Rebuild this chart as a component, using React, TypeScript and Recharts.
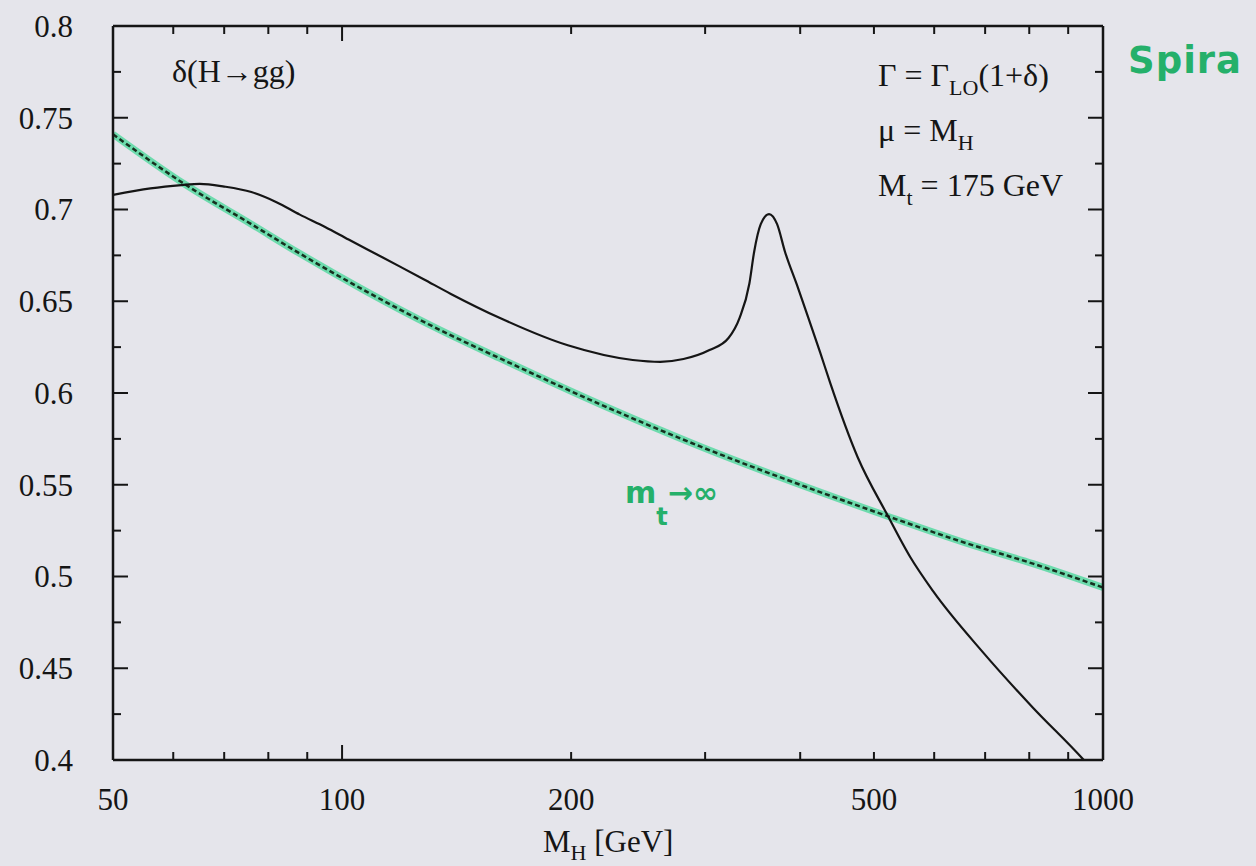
import React from "react";
import { LineChart, Line, XAxis, YAxis } from "recharts";

// full m_t dependence (M_t = 175 GeV)
const fullMassH = [50, 56, 61.5, 65, 70, 76, 82, 88, 95, 102, 111, 119, 128, 139, 161, 198, 241, 262, 281, 304, 322, 333, 343, 348, 355, 364, 373, 382, 396, 410, 425, 438, 476, 520, 558, 598, 696, 809, 941, 1000];
const fullDelta = [0.708, 0.7115, 0.7133, 0.714, 0.7125, 0.7095, 0.704, 0.6972, 0.6905, 0.6836, 0.6756, 0.669, 0.662, 0.654, 0.641, 0.626, 0.618, 0.617, 0.6185, 0.6234, 0.63, 0.641, 0.6597, 0.677, 0.692, 0.6975, 0.692, 0.677, 0.659, 0.641, 0.622, 0.6055, 0.565, 0.534, 0.5106, 0.492, 0.4585, 0.4285, 0.4005, 0.388];

// heavy top limit, m_t -> infinity
const limitMassH = [50, 62, 76, 88, 108, 132, 161, 218, 295, 400, 520, 663, 809, 1000];
const limitDelta = [0.741, 0.714, 0.692, 0.676, 0.655, 0.636, 0.619, 0.594, 0.571, 0.55, 0.533, 0.518, 0.507, 0.494];

const xTicks = [50, 60, 70, 80, 90, 100, 200, 300, 400, 500, 600, 700, 800, 900, 1000];
const xTickLabels = [50, 100, 200, 500, 1000];
const xMajorTicks = [100, 1000];

const yTicks = [0.4, 0.425, 0.45, 0.475, 0.5, 0.525, 0.55, 0.575, 0.6, 0.625, 0.65, 0.675, 0.7, 0.725, 0.75, 0.775, 0.8];
const yTickLabels = ["0.4", "0.45", "0.5", "0.55", "0.6", "0.65", "0.7", "0.75", "0.8"];

const fullData = fullMassH.map((m, i) => ({ m, delta: fullDelta[i] }));
const limitData = limitMassH.map((m, i) => ({ m, delta: limitDelta[i] }));

const INK = "#151515";
const SERIF = "'Liberation Serif', 'DejaVu Serif', serif";
const PAPER = "#e5e5eb";
const MARKER = "#25b06a";
const X_GAP = 28;
const Y_GAP = 40;
const MAJOR = 15;
const MINOR = 8;

const yLabel = (v: number) => yTickLabels.find((s) => Math.abs(Number(s) - v) < 1e-6);

function BottomTick({ x, y, payload }: any) {
  const v = payload.value;
  const axisY = y - X_GAP;
  const len = xMajorTicks.includes(v) ? MAJOR : MINOR;
  return (
    <g>
      <line x1={x} x2={x} y1={axisY} y2={axisY - len} stroke={INK} strokeWidth={2} />
      {xTickLabels.includes(v) && (
        <text x={x} y={y} dy="0.71em" textAnchor="middle" fill={INK} fontSize={31} fontFamily={SERIF}>
          {v}
        </text>
      )}
    </g>
  );
}

function TopTick({ x, y, payload }: any) {
  const len = xMajorTicks.includes(payload.value) ? MAJOR : MINOR;
  return <line x1={x} x2={x} y1={y} y2={y + len} stroke={INK} strokeWidth={2} />;
}

function LeftTick({ x, y, payload }: any) {
  const label = yLabel(payload.value);
  const axisX = x + Y_GAP;
  const len = label ? MAJOR : MINOR;
  return (
    <g>
      <line x1={axisX} x2={axisX + len} y1={y} y2={y} stroke={INK} strokeWidth={2} />
      {label && (
        <text x={x} y={y} dy="0.35em" textAnchor="end" fill={INK} fontSize={31} fontFamily={SERIF}>
          {label}
        </text>
      )}
    </g>
  );
}

function RightTick({ x, y, payload }: any) {
  const len = yLabel(payload.value) ? MAJOR : MINOR;
  return <line x1={x} x2={x - len} y1={y} y2={y} stroke={INK} strokeWidth={2} />;
}

const axisLine = { stroke: INK, strokeWidth: 2.5 };

export default function App() {
  return (
    <div style={{ position: "absolute", left: 0, top: 0, width: 1256, height: 866, background: PAPER, overflow: "hidden" }}>
      <LineChart width={1256} height={866} margin={{ top: 21, right: 148, bottom: 46, left: 0 }}>
        <XAxis
          dataKey="m"
          type="number"
          scale="log"
          domain={[50, 1000]}
          allowDataOverflow
          ticks={xTicks}
          interval={0}
          height={60}
          tickSize={0}
          tickMargin={X_GAP}
          axisLine={axisLine}
          tick={(p: any) => <BottomTick {...p} />}
        />
        <XAxis
          xAxisId="top"
          orientation="top"
          dataKey="m"
          type="number"
          scale="log"
          domain={[50, 1000]}
          allowDataOverflow
          ticks={xTicks}
          interval={0}
          height={5}
          tickSize={0}
          tickMargin={0}
          axisLine={axisLine}
          tick={(p: any) => <TopTick {...p} />}
        />
        <YAxis
          type="number"
          domain={[0.4, 0.8]}
          allowDataOverflow
          ticks={yTicks}
          interval={0}
          width={113}
          tickSize={0}
          tickMargin={Y_GAP}
          axisLine={axisLine}
          tick={(p: any) => <LeftTick {...p} />}
        />
        <YAxis
          yAxisId="right"
          orientation="right"
          type="number"
          domain={[0.4, 0.8]}
          allowDataOverflow
          ticks={yTicks}
          interval={0}
          width={5}
          tickSize={0}
          tickMargin={0}
          axisLine={axisLine}
          tick={(p: any) => <RightTick {...p} />}
        />
        <Line
          data={limitData}
          dataKey="delta"
          type="monotone"
          stroke="#5fd9a6"
          strokeWidth={7}
          strokeOpacity={0.9}
          dot={false}
          isAnimationActive={false}
        />
        <Line
          data={limitData}
          dataKey="delta"
          type="monotone"
          stroke="#16301f"
          strokeWidth={2.5}
          strokeDasharray="5 3"
          dot={false}
          isAnimationActive={false}
        />
        <Line
          data={fullData}
          dataKey="delta"
          type="monotone"
          stroke={INK}
          strokeWidth={2.2}
          dot={false}
          isAnimationActive={false}
        />
      </LineChart>
      <svg width={1256} height={866} style={{ position: "absolute", left: 0, top: 0, pointerEvents: "none" }}>
        <g fontFamily={SERIF} fill={INK} fontSize={32}>
          <text x={172} y={82}>δ(H→gg)</text>
          <text x={878} y={86}>
            Γ = Γ<tspan fontSize={22} dy={9}>LO</tspan>
            <tspan dy={-9}>(1+δ)</tspan>
          </text>
          <text x={878} y={141}>
            μ = M<tspan fontSize={22} dy={9}>H</tspan>
          </text>
          <text x={878} y={196}>
            M<tspan fontSize={22} dy={9}>t</tspan>
            <tspan dy={-9}> = 175 GeV</tspan>
          </text>
          <text x={543} y={852} fontSize={31}>
            M<tspan fontSize={22} dy={8}>H</tspan>
            <tspan dy={-8}> [GeV]</tspan>
          </text>
        </g>
        <g fontFamily="'DejaVu Sans', sans-serif" fill={MARKER} fontWeight="bold">
          <text x={1128} y={73} fontSize={37} letterSpacing={1}>Spira</text>
          <text x={625} y={503} fontSize={30}>
            m<tspan fontSize={24} dy={22}>t</tspan>
            <tspan dy={-22}>→∞</tspan>
          </text>
        </g>
      </svg>
    </div>
  );
}
